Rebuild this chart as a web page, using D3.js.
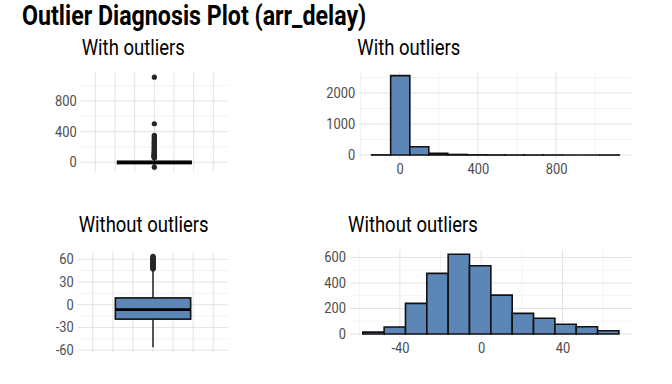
<!DOCTYPE html>
<html><head><meta charset="utf-8">
<script src="https://cdn.jsdelivr.net/npm/d3@7"></script>
<style>
body{margin:0;background:#fff;}
text{font-family:Roboto,"Noto Sans",sans-serif;}
</style>
</head><body>
<svg id="chart" width="672" height="384"></svg>
<script>
// ---------------- data ----------------
const chartTitle = "Outlier Diagnosis Plot (arr_delay)";
const panelTitles = ["With outliers", "With outliers", "Without outliers", "Without outliers"];

// box stats: [lower whisker, q1, median, q3, upper whisker]
const boxWithStats = [-50, -17, -5, 14, 60];
const boxWithOutliers = [-64, 61, 63, 66, 68, 71, 74, 77, 80, 84, 88, 92, 96, 101, 106, 112, 118, 124,
  131, 138, 146, 154, 163, 172, 181, 191, 201, 212, 224, 236, 249, 262, 276, 290, 305, 320, 336, 352, 503, 1110];
const boxWithoutStats = [-56, -19, -6.5, 9, 46];
const boxWithoutOutliers = [47, 48, 48.5, 49, 50, 51, 51.5, 52, 53, 54, 54.5, 55, 56, 57, 58, 58.5, 59, 60,
  61, 62, 62.5, 63, 64];

const histWithEdges = [-143, -46, 52, 149, 246, 344, 441, 538, 636, 733, 831, 928, 1025, 1123];
const histWithCounts = [5, 2560, 268, 55, 18, 6, 3, 2, 1, 1, 0, 0, 1];
const histWithoutEdges = [-58.25, -47.75, -37.25, -26.75, -16.25, -5.75, 4.75, 15.25, 25.75, 36.25, 46.75, 57.25, 67.75];
const histWithoutCounts = [15, 55, 240, 475, 625, 535, 305, 162, 123, 76, 57, 26];

const boxWithTicks = [0, 400, 800];
const boxWithMinor = [200, 600, 1000];
const boxWithoutTicks = [-60, -30, 0, 30, 60];
const boxWithoutMinor = [-45, -15, 15, 45];
const boxXGrid = [-0.6, -0.4, -0.2, 0, 0.2, 0.4, 0.6];
const histWithXTicks = [0, 400, 800];
const histWithXMinor = [-200, 200, 600, 1000];
const histWithYTicks = [0, 1000, 2000];
const histWithYMinor = [500, 1500, 2500];
const histWithoutXTicks = [-40, 0, 40];
const histWithoutXMinor = [-60, -20, 20, 60];
const histWithoutYTicks = [0, 200, 400, 600];
const histWithoutYMinor = [100, 300, 500];

// ---------------- styles / layout ----------------
const FILL = "#5b86b5";
const GRID_MAJOR = "#dcdcdc", GRID_MINOR = "#ebebeb";
const TICK_COLOR = "#4d4d4d";
const CONDENSE = 0.86;
const fmt = d => String(d);
const svg = d3.select("#chart");

function expand(lo, hi, f = 0.05) { const r = hi - lo; return [lo - r * f, hi + r * f]; }

function grid(g, x, y, xs, ys, xr, yr, color, w) {
  g.selectAll(null).data(ys).join("line")
    .attr("x1", xr[0]).attr("x2", xr[1]).attr("y1", d => y(d)).attr("y2", d => y(d))
    .attr("stroke", color).attr("stroke-width", w);
  g.selectAll(null).data(xs).join("line")
    .attr("y1", yr[0]).attr("y2", yr[1]).attr("x1", d => x(d)).attr("x2", d => x(d))
    .attr("stroke", color).attr("stroke-width", w);
}

function styleAxis(a) {
  a.select(".domain").remove();
  a.selectAll(".tick line").remove();
  a.selectAll("text").attr("fill", TICK_COLOR).style("font-size", "14px").style("font-family", "Roboto")
    .attr("transform", "scale(0.92,1)");
}

function condensedText(x, y, t, size, weight) {
  svg.append("g").attr("transform", `translate(${x},${y}) scale(${CONDENSE},1)`)
    .append("text").attr("x", 0).attr("y", 0).text(t)
    .style("font-size", size + "px").style("font-weight", weight).attr("fill", "#000");
}

function boxPanel(px, py, stats, outliers, ticks, minor, title, ty) {
  const all = outliers.concat(stats);
  const y = d3.scaleLinear().domain(expand(d3.min(all), d3.max(all))).range([py[1], py[0]]);
  const x = d3.scaleLinear().domain([-0.75, 0.75]).range(px);
  const g = svg.append("g");
  grid(g, x, y, [], minor, px, py, GRID_MINOR, 0.6);
  grid(g, x, y, boxXGrid, ticks, px, py, GRID_MAJOR, 0.8);
  const ax = svg.append("g").attr("transform", `translate(${px[0] - 4},0)`)
    .call(d3.axisLeft(y).tickValues(ticks).tickSize(0).tickPadding(0).tickFormat(fmt));
  styleAxis(ax);
  const [lo, q1, med, q3, hi] = stats;
  const bw = 0.375;
  g.append("line").attr("x1", x(0)).attr("x2", x(0)).attr("y1", y(lo)).attr("y2", y(q1))
    .attr("stroke", "#000").attr("stroke-width", 1.3);
  g.append("line").attr("x1", x(0)).attr("x2", x(0)).attr("y1", y(q3)).attr("y2", y(hi))
    .attr("stroke", "#000").attr("stroke-width", 1.3);
  g.append("rect").attr("x", x(-bw)).attr("width", x(bw) - x(-bw))
    .attr("y", y(q3)).attr("height", y(q1) - y(q3))
    .attr("fill", FILL).attr("stroke", "#111").attr("stroke-width", 1.6);
  g.append("line").attr("x1", x(-bw)).attr("x2", x(bw)).attr("y1", y(med)).attr("y2", y(med))
    .attr("stroke", "#000").attr("stroke-width", 2.6);
  g.selectAll(null).data(outliers).join("circle")
    .attr("cx", x(0)).attr("cy", d => y(d)).attr("r", 2.6).attr("fill", "#262626");
  condensedText(px[0] + 1, ty, title, 21.5, "normal");
}

function histPanel(px, py, edges, counts, xt, xm, yt, ym, title, ty) {
  const x = d3.scaleLinear().domain(expand(edges[0], edges[edges.length - 1])).range(px);
  const y = d3.scaleLinear().domain(expand(0, d3.max(counts))).range([py[1], py[0]]);
  const g = svg.append("g");
  grid(g, x, y, xm, ym, px, py, GRID_MINOR, 0.6);
  grid(g, x, y, xt, yt, px, py, GRID_MAJOR, 0.8);
  const ay = svg.append("g").attr("transform", `translate(${px[0] - 4},0)`)
    .call(d3.axisLeft(y).tickValues(yt).tickSize(0).tickPadding(0).tickFormat(fmt));
  styleAxis(ay);
  const axx = svg.append("g").attr("transform", `translate(0,${py[1] + 5})`)
    .call(d3.axisBottom(x).tickValues(xt).tickSize(0).tickPadding(0).tickFormat(fmt));
  styleAxis(axx);
  axx.selectAll("text").attr("dy", "0.71em");
  const bins = counts.map((c, i) => ({ x0: edges[i], x1: edges[i + 1], c }));
  g.selectAll(null).data(bins).join("path")
    .attr("d", d => `M${x(d.x0)},${y(0)}V${y(d.c)}H${x(d.x1)}V${y(0)}Z`)
    .attr("fill", FILL).attr("stroke", "#111").attr("stroke-width", 1.6)
    .attr("stroke-linejoin", "miter");
  condensedText(px[0] - 2, ty, title, 21.5, "normal");
}

// title
condensedText(22, 25, chartTitle, 27, "bold");

boxPanel([80.7, 228], [72.7, 171.7], boxWithStats, boxWithOutliers, boxWithTicks, boxWithMinor, panelTitles[0], 55);
histPanel([359.3, 631.7], [71.7, 159], histWithEdges, histWithCounts,
  histWithXTicks, histWithXMinor, histWithYTicks, histWithYMinor, panelTitles[1], 55);
boxPanel([77.7, 228.3], [251.7, 351.7], boxWithoutStats, boxWithoutOutliers, boxWithoutTicks, boxWithoutMinor, panelTitles[2], 232);
histPanel([350, 631.7], [250.3, 338], histWithoutEdges, histWithoutCounts,
  histWithoutXTicks, histWithoutXMinor, histWithoutYTicks, histWithoutYMinor, panelTitles[3], 232);
</script>
</body></html>
